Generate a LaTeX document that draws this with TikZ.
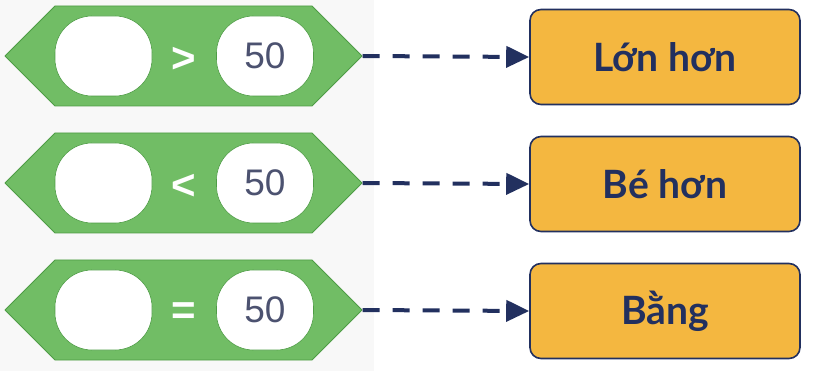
\documentclass[tikz,border=0pt]{standalone}
\usepackage{fontspec}
\setmainfont{Liberation Sans}
\newfontfamily\labelfont{Lato}
\usetikzlibrary{arrows.meta,shapes.symbols}
\definecolor{blockgreen}{HTML}{71BD65}
\definecolor{blockedge}{HTML}{4E9C45}
\definecolor{boxorange}{HTML}{F4B740}
\definecolor{navy}{HTML}{22305F}
\definecolor{numgray}{HTML}{4C5270}
\definecolor{panelgray}{HTML}{F8F8F8}
\begin{document}
\begin{tikzpicture}[x=1pt, y=-1pt, line join=round, >={Triangle[length=23pt,width=21pt]}]
	\tikzset{hexblock/.style={signal, signal to=east and west, signal pointer angle=90, fill=blockgreen, draw=blockedge, line width=0.8pt, minimum width=357pt, minimum height=100pt, inner sep=0pt},
		slot/.style={fill=white, draw=blockedge, line width=0.6pt, rounded corners=37pt, minimum width=97pt, minimum height=80pt, inner sep=0pt, font=\fontsize{37}{37}\selectfont, text=numgray},
		opsign/.style={text=white, font=\bfseries\fontsize{42}{42}\selectfont},
		answer/.style={fill=boxorange, draw=navy, line width=1.6pt, rounded corners=11pt, minimum width=270pt, minimum height=95pt, text=navy, font=\labelfont\bfseries\fontsize{39}{39}\selectfont},
		link/.style={->, draw=navy, line width=4pt, dash pattern=on 17pt off 13pt}}
	\useasboundingbox (0,0) rectangle (816,371);
	\fill[panelgray] (0,0) rectangle (374,371);
	% khoi so sanh
	\foreach \n/\y/\op/\txt in {1/56/>/Lớn hơn, 2/183/</Bé hơn, 3/310/=/Bằng}{
		\node[hexblock] (hex\n) at (183.5,\y) {};
		\node[slot] (left\n) at (103.5,\y) {};
		\node[slot] (right\n) at (265,\y) {50};
		\node[opsign] (op\n) at (184,\y+4) {\op};
		\node[answer] (ans\n) at (665,\y+1) {\txt};
		\draw[link] (hex\n.east) -- (ans\n.west);
	}
\end{tikzpicture}
\end{document}
